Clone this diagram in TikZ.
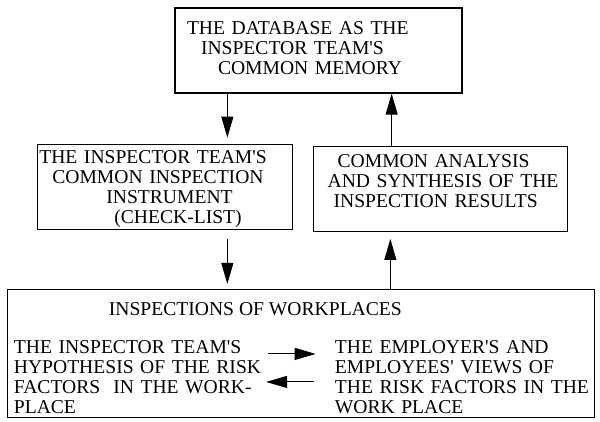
\documentclass[tikz,border=0pt]{standalone}
\usepackage{fontspec}
\setmainfont{Liberation Serif}
\usepackage{tikz}
\usetikzlibrary{arrows.meta, positioning}
\tikzstyle{arrow} = [line width=1pt,-{Triangle[length=21pt,width=12pt]}]
\newcommand{\apos}{\textquotesingle}

\begin{document}
\begin{tikzpicture}
	% Define styles for the boxes and the loose texts
	\tikzstyle{box} = [rectangle, draw, line width=1.3pt, minimum height=85pt, inner ysep=1pt, align=left, font=\fontsize{19.6pt}{20pt}\selectfont]
	\tikzstyle{frame} = [rectangle, draw, line width=1.3pt, minimum width=587pt, minimum height=128pt, inner sep=0pt]
	\tikzstyle{plain} = [inner sep=0pt, align=left, font=\fontsize{19.6pt}{20pt}\selectfont]

	\useasboundingbox (0,0) rectangle (600pt,-422pt);

	% Database
	\node[box, text width=263pt, inner xsep=12pt] (database) at (318.5pt,-50.5pt) {
		THE DATABASE AS THE\\
		\hspace*{14pt}INSPECTOR TEAM\apos S\\
		\hspace*{31pt}COMMON MEMORY\rule[-5pt]{0pt}{5pt}
	};

	% Instrument
	\node[box, text width=251pt, inner xsep=2pt, below left=50pt and 25.5pt of database.south] (instrument) {
		\rule{0pt}{17pt}THE INSPECTOR TEAM\apos S\\
		\hspace*{13pt}COMMON INSPECTION\\
		\hspace*{67pt}INSTRUMENT\\
		\hspace*{75pt}(CHECK-LIST)
	};

	% Analysis
	\node[box, text width=236pt, inner xsep=9pt, right=20pt of instrument, yshift=-2pt] (analysis) {
		\hspace*{15pt}COMMON ANALYSIS\\
		\hspace*{5pt}AND SYNTHESIS OF THE\\
		\hspace*{11pt}INSPECTION RESULTS\rule[-16pt]{0pt}{16pt}
	};

	% Inspections
	\node[frame, below right=59pt and -30pt of instrument.south west] (inspections) {};
	\node[plain, below right=13pt and 102pt of inspections.north west] (title) {INSPECTIONS OF WORKPLACES};
	\node[plain, text width=250pt, below right=51pt and 7pt of inspections.north west] (hypothesis) {
		THE INSPECTOR TEAM\apos S\\
		HYPOTHESIS OF THE RISK\\
		FACTORS\ \ IN THE WORK-\\
		PLACE
	};
	\node[plain, text width=255pt, below right=51pt and 328pt of inspections.north west] (views) {
		THE EMPLOYER\apos S AND\\
		EMPLOYEES\apos{} VIEWS OF\\
		THE RISK FACTORS IN THE\\
		WORK PLACE
	};

	% Arrows
	\draw[arrow, shorten >=6pt] ([xshift=53pt]database.south west) -- ([xshift=53pt]database.south west |- instrument.north);
	\draw[arrow] ([xshift=-49pt]analysis.north) -- ([xshift=-49pt]analysis.north |- database.south);
	\draw[arrow, shorten <=9pt, shorten >=5pt] ([xshift=62.5pt]instrument.south) -- ([xshift=62.5pt]instrument.south |- inspections.north);
	\draw[arrow, shorten >=7pt] ([xshift=89.5pt]inspections.north) -- ([xshift=89.5pt]inspections.north |- analysis.south);
	\draw[arrow, shorten <=4pt, shorten >=19pt] ([yshift=-14pt]hypothesis.north east) -- ([yshift=-14pt]hypothesis.north east -| views.west);
	\draw[arrow, shorten <=21pt, shorten >=2pt] ([yshift=-42pt]views.north west) -- ([yshift=-42pt]views.north west -| hypothesis.east);
\end{tikzpicture}
\end{document}
